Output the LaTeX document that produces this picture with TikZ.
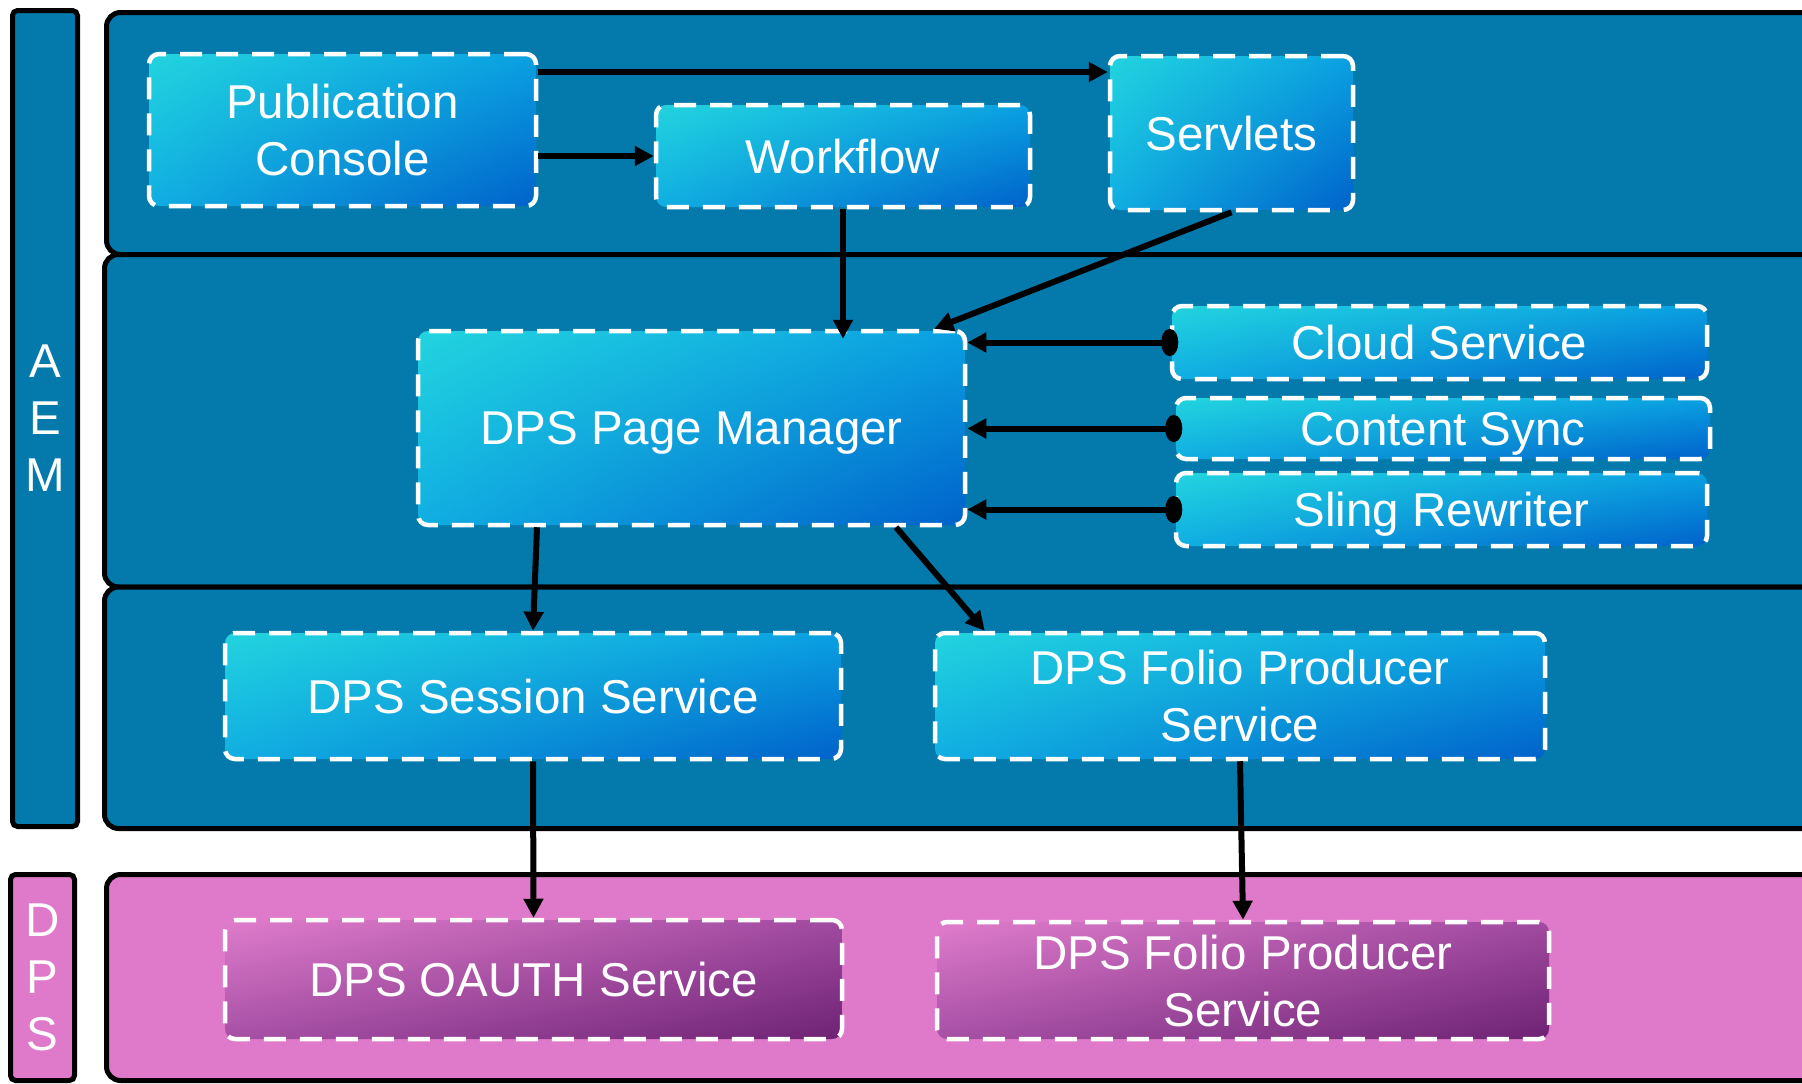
\documentclass[tikz,border=0pt]{standalone}
\usepackage{fontspec}
\setmainfont{Liberation Sans}
\usetikzlibrary{arrows.meta,shadings}
\definecolor{panelteal}{HTML}{037AAB}
\definecolor{panelpink}{HTML}{DF79C9}
\definecolor{bUL}{HTML}{22D4DE}
\definecolor{bUR}{HTML}{0AA0E2}
\definecolor{bLL}{HTML}{10AEE2}
\definecolor{bLR}{HTML}{0062CA}
\definecolor{pUL}{HTML}{E07CCB}
\definecolor{pUR}{HTML}{A04AA0}
\definecolor{pLL}{HTML}{A650A6}
\definecolor{pLR}{HTML}{6E2274}
\begin{document}
\begin{tikzpicture}[x=1pt,y=-1pt,
  panel/.style={draw=black, line width=5pt, rounded corners=14pt},
  sidebar/.style={draw=black, line width=5pt, rounded corners=5pt, text=white,
    font=\fontsize{47.5}{57}\selectfont, align=center, inner sep=0pt},
  svcbox/.style={rectangle, rounded corners=10pt, draw=white, line width=4.5pt,
    dash pattern=on 22pt off 14pt, text=white, font=\fontsize{47.5}{57}\selectfont,
    align=center, inner sep=0pt, text depth=0pt},
  bluebox/.style={svcbox, upper left=bUL, upper right=bUR, lower left=bLL, lower right=bLR},
  purplebox/.style={svcbox, upper left=pUL, upper right=pUR, lower left=pLL, lower right=pLR},
  conn/.style={line width=6pt, -{Triangle[length=19pt,width=19pt]}},
  dotconn/.style={line width=6pt, {Ellipse[length=17pt,width=27pt]}-{Triangle[length=19pt,width=19pt]}, shorten <=-8.5pt},
]
\useasboundingbox (0,0) rectangle (1802,1084);
\clip (0,0) rectangle (1802,1084);

% panels
\draw[panel, fill=panelteal] (106.5,12.5) rectangle (1850,254.5);
\draw[panel, fill=panelteal] (104.5,254.5) rectangle (1850,587);
\draw[panel, fill=panelteal] (104.5,587) rectangle (1850,828.5);
\draw[panel, fill=panelpink] (106.5,874.5) rectangle (1850,1080.5);

% side bars
\node[sidebar, fill=panelteal, minimum width=65pt, minimum height=816pt] (aem) at (45,418.5) {A\\E\\M};
\node[sidebar, fill=panelpink, minimum width=64pt, minimum height=206pt] (dps) at (42.5,977.5) {D\\P\\S};

% boxes
\node[bluebox, minimum width=387pt, minimum height=152pt] (pc) at (342.5,130) {Publication\\Console};
\node[bluebox, minimum width=374pt, minimum height=102pt] (wf) at (843,156) {Workflow};
\node[bluebox, minimum width=243pt, minimum height=154pt] (sv) at (1231.5,133) {Servlets};
\node[bluebox, minimum width=547pt, minimum height=194pt] (pm) at (691.5,428) {DPS Page Manager};
\node[bluebox, minimum width=535pt, minimum height=73pt] (cl) at (1439.5,342.5) {Cloud Service};
\node[bluebox, minimum width=534pt, minimum height=61pt] (cs) at (1443,428.5) {Content Sync};
\node[bluebox, minimum width=531pt, minimum height=73pt] (sr) at (1441.5,509.5) {Sling Rewriter};
\node[bluebox, minimum width=616pt, minimum height=126pt] (ss) at (533,696) {DPS Session Service};
\node[bluebox, minimum width=610pt, minimum height=126pt] (fp) at (1240,696) {DPS Folio Producer\\Service};
\node[purplebox, minimum width=617pt, minimum height=119pt] (oa) at (533.5,979.5) {DPS OAUTH Service};
\node[purplebox, minimum width=612pt, minimum height=117pt] (fp2) at (1243,980.5) {DPS Folio Producer\\Service};

% connectors
\draw[conn] ([yshift=58pt]pc.east) -- ([yshift=58pt]pc.east -| sv.west);
\draw[conn] ([yshift=-26pt]pc.east) -- ([yshift=-26pt]pc.east -| wf.west);
\draw[conn, shorten >=-10pt] (wf.south) -- (wf.south |- pm.north);
\draw[conn] (sv.south) -- ([xshift=-33pt]pm.north east);
\draw[dotconn] (cl.west) -- (cl.west -| pm.east);
\draw[dotconn] (cs.west) -- (cs.west -| pm.east);
\draw[dotconn] (sr.west) -- (sr.west -| pm.east);
\draw[conn] ([xshift=-154.5pt]pm.south) -- (ss.north);
\draw[conn] ([xshift=204.5pt]pm.south) -- ([xshift=52pt]fp.north west);
\draw[conn] (ss.south) -- (oa.north);
\draw[conn] (fp.south) -- (fp2.north);
\end{tikzpicture}
\end{document}
